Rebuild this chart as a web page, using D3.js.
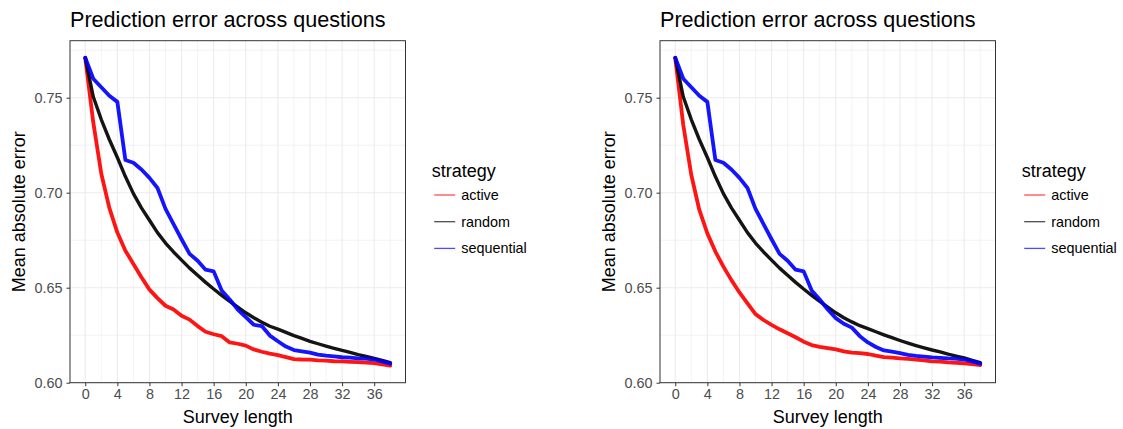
<!DOCTYPE html>
<html>
<head>
<meta charset="utf-8">
<script src="https://cdn.jsdelivr.net/npm/d3@7"></script>
<style>
  html, body { margin: 0; padding: 0; background: #fff; }
  svg { display: block; font-family: "Liberation Sans", Arial, Helvetica, sans-serif; }
</style>
</head>
<body>
<svg id="chart" width="1123" height="429"></svg>
<script>
// ---------- data ----------
const surveyLength = [0,1,2,3,4,5,6,7,8,9,10,11,12,13,14,15,16,17,18,19,20,21,22,23,24,25,26,27,28,29,30,31,32,33,34,35,36,37,38];
const strategies = ["active", "random", "sequential"];
const xTicks = [0, 4, 8, 12, 16, 20, 24, 28, 32, 36];
const xMinorTicks = [2, 6, 10, 14, 18, 22, 26, 30, 34, 38];
const yTicks = [0.60, 0.65, 0.70, 0.75];
const yMinorTicks = [0.625, 0.675, 0.725, 0.775];
const chartTitle = "Prediction error across questions";
const xTitle = "Survey length";
const yTitle = "Mean absolute error";
const legendTitle = "strategy";

const leftActive = [0.771,0.737,0.710,0.692,0.679,0.6695,0.6625,0.6555,0.649,0.6445,0.6405,0.6385,0.6352,0.6332,0.6298,0.6268,0.6255,0.6245,0.6212,0.6205,0.6195,0.6175,0.6163,0.6153,0.6145,0.6135,0.6124,0.6122,0.6121,0.6118,0.6116,0.6113,0.6112,0.611,0.6108,0.6106,0.6103,0.6097,0.609];
const leftRandom = [0.771,0.7505,0.7385,0.728,0.7185,0.7085,0.6995,0.692,0.6855,0.679,0.6735,0.6688,0.6645,0.6603,0.6565,0.6528,0.6493,0.646,0.6428,0.6398,0.6368,0.6342,0.6318,0.6297,0.6282,0.6265,0.6248,0.6233,0.6218,0.6205,0.6193,0.6181,0.617,0.616,0.6148,0.6138,0.6128,0.6117,0.6105];
const leftSequential = [0.771,0.760,0.7555,0.751,0.7478,0.7172,0.7158,0.7122,0.7078,0.7025,0.6915,0.6835,0.6755,0.6678,0.6642,0.6595,0.6586,0.6485,0.6438,0.6385,0.6345,0.6305,0.6298,0.6248,0.6218,0.619,0.6172,0.6165,0.6158,0.6148,0.6142,0.6138,0.6134,0.6132,0.6128,0.6127,0.6122,0.6112,0.610];

const rightActive = [0.771,0.7356,0.7093,0.6909,0.6786,0.669,0.6611,0.654,0.6475,0.6418,0.6361,0.633,0.6304,0.6281,0.626,0.6239,0.6216,0.6198,0.6189,0.6182,0.6175,0.6165,0.6158,0.6156,0.6151,0.6142,0.6135,0.6132,0.6128,0.6125,0.6121,0.6118,0.6112,0.6111,0.6107,0.6105,0.6102,0.6098,0.6093];
const rightRandom = [0.771,0.7505,0.7385,0.728,0.7185,0.7085,0.6995,0.692,0.6855,0.679,0.6735,0.6688,0.6645,0.6603,0.6565,0.6528,0.6493,0.646,0.6428,0.6398,0.6368,0.6342,0.632,0.63,0.6285,0.6268,0.6252,0.6237,0.6222,0.6208,0.6195,0.6183,0.6172,0.6162,0.615,0.614,0.613,0.6118,0.6106];
const rightSequential = [0.771,0.760,0.7555,0.751,0.7478,0.7172,0.7158,0.7122,0.7078,0.7025,0.6915,0.6835,0.6755,0.6678,0.6642,0.6595,0.6586,0.6485,0.6438,0.6385,0.634,0.631,0.629,0.6245,0.6212,0.6188,0.617,0.6163,0.6156,0.6147,0.6141,0.6137,0.6133,0.6131,0.6128,0.6127,0.6122,0.6112,0.610];

const panels = [
  { offset: 0,   series: { active: leftActive,  random: leftRandom,  sequential: leftSequential } },
  { offset: 590, series: { active: rightActive, random: rightRandom, sequential: rightSequential } }
];

// ---------- styles ----------
const colors = { active: "#ff0000", random: "#000000", sequential: "#0000ff" };
const widths = { active: 3.8, random: 3.4, sequential: 3.8 };
const panelLeft = 70, panelTop = 40.7, pw = 335.5, ph = 342;
const gridCol = "#ebebeb", borderCol = "#333333", tickTextCol = "#4d4d4d";

const svg = d3.select("#chart");
svg.append("rect").attr("width", 1123).attr("height", 429).attr("fill", "#fff");

const x = d3.scaleLinear().domain([-1.9, 39.9]).range([0, pw]);
const y = d3.scaleLinear().domain([0.60, 0.78]).range([ph, 0]);

panels.forEach(p => {
  const root = svg.append("g").attr("transform", `translate(${p.offset},0)`);
  const g = root.append("g").attr("transform", `translate(${panelLeft},${panelTop})`);

  // grid (minor then major)
  g.selectAll(".xminor").data(xMinorTicks).enter().append("line")
    .attr("x1", d => x(d)).attr("x2", d => x(d)).attr("y1", 0).attr("y2", ph)
    .attr("stroke", gridCol).attr("stroke-width", 0.6);
  g.selectAll(".yminor").data(yMinorTicks).enter().append("line")
    .attr("y1", d => y(d)).attr("y2", d => y(d)).attr("x1", 0).attr("x2", pw)
    .attr("stroke", gridCol).attr("stroke-width", 0.6);
  g.selectAll(".xmajor").data(xTicks).enter().append("line")
    .attr("x1", d => x(d)).attr("x2", d => x(d)).attr("y1", 0).attr("y2", ph)
    .attr("stroke", gridCol).attr("stroke-width", 1.1);
  g.selectAll(".ymajor").data(yTicks).enter().append("line")
    .attr("y1", d => y(d)).attr("y2", d => y(d)).attr("x1", 0).attr("x2", pw)
    .attr("stroke", gridCol).attr("stroke-width", 1.1);

  // lines
  const line = d3.line().x((d, i) => x(surveyLength[i])).y(d => y(d));
  strategies.forEach(s => {
    g.append("path").datum(p.series[s])
      .attr("d", line)
      .attr("fill", "none")
      .attr("stroke", colors[s])
      .attr("stroke-width", widths[s])
      .attr("stroke-opacity", 0.92)
      .attr("stroke-linejoin", "round")
      .attr("stroke-linecap", "round");
  });

  // border
  g.append("rect").attr("x", 0).attr("y", 0).attr("width", pw).attr("height", ph)
    .attr("fill", "none").attr("stroke", borderCol).attr("stroke-width", 1);

  // axes
  const xa = g.append("g").attr("transform", `translate(0,${ph})`)
    .call(d3.axisBottom(x).tickValues(xTicks).tickSize(3.5).tickPadding(3).tickFormat(d3.format("d")));
  const ya = g.append("g")
    .call(d3.axisLeft(y).tickValues(yTicks).tickSize(3.5).tickPadding(4).tickFormat(d3.format(".2f")));
  [xa, ya].forEach(a => {
    a.select(".domain").remove();
    a.selectAll(".tick line").attr("stroke", borderCol).attr("stroke-width", 1);
    a.selectAll(".tick text").attr("fill", tickTextCol)
      .style("font-size", "14.4px").style("font-family", "'Liberation Sans', Arial, sans-serif");
  });

  // titles
  root.append("text").attr("x", panelLeft).attr("y", 26.5)
    .style("font-size", "21.6px").attr("fill", "#000").text(chartTitle);
  root.append("text").attr("x", panelLeft + pw / 2).attr("y", 423)
    .attr("text-anchor", "middle").style("font-size", "18px").attr("fill", "#000").text(xTitle);
  root.append("text")
    .attr("transform", `translate(24.5,${panelTop + ph / 2}) rotate(-90)`)
    .attr("text-anchor", "middle").style("font-size", "18px").attr("fill", "#000").text(yTitle);

  // legend
  const lg = root.append("g").attr("transform", "translate(431.7,0)");
  lg.append("text").attr("x", 0).attr("y", 177).style("font-size", "18px").attr("fill", "#000").text(legendTitle);
  strategies.forEach((s, i) => {
    const cy = 195 + i * 26.7;
    lg.append("line").attr("x1", 2.5).attr("x2", 23.5).attr("y1", cy).attr("y2", cy)
      .attr("stroke", colors[s]).attr("stroke-width", 1.3).attr("stroke-opacity", 0.7);
    lg.append("text").attr("x", 29.5).attr("y", cy + 5)
      .style("font-size", "14.4px").attr("fill", "#000").text(s);
  });
});
</script>
</body>
</html>
